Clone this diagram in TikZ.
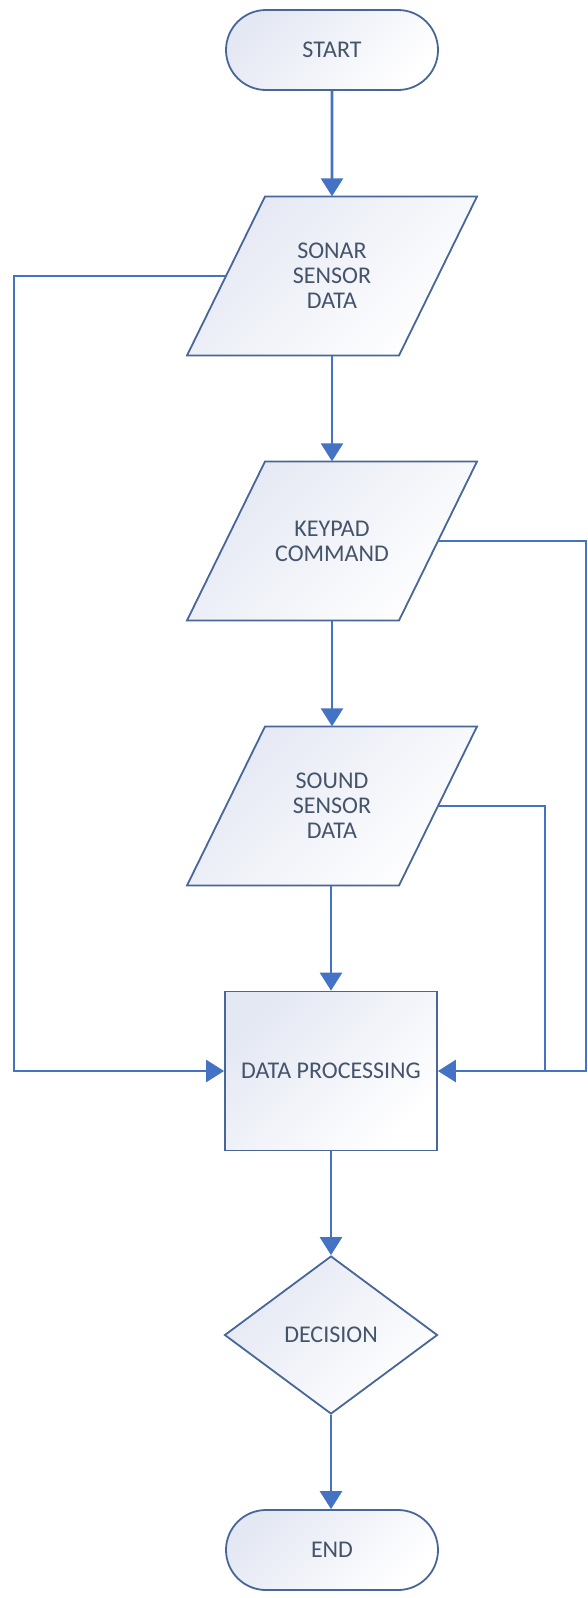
\documentclass[tikz,border=0pt]{standalone}
\usepackage{fontspec}
\setmainfont{Carlito}
\usetikzlibrary{shapes.geometric,shapes.misc,arrows.meta}
\definecolor{edgec}{RGB}{72,102,152}
\definecolor{linec}{RGB}{68,114,196}
\definecolor{txtc}{RGB}{68,84,106}
\definecolor{fillc}{RGB}{228,232,243}
\tikzset{
  lbl/.style={text=txtc, font=\fontsize{24}{25}\selectfont, align=center, inner sep=0pt},
  base/.style={lbl, draw=edgec, line width=1.8pt, top color=fillc, bottom color=white, shading angle=45},
  terminal/.style={base, rounded rectangle, minimum width=212pt, minimum height=80pt},
  procbox/.style={base, rectangle, minimum width=212pt, minimum height=159pt},
  decide/.style={base, diamond, minimum width=213pt, minimum height=158pt},
  iolabel/.style={lbl, minimum width=212pt, minimum height=159pt},
  ioshape/.style={draw=edgec, line width=1.8pt, top color=fillc, bottom color=white, shading angle=45},
  wire/.style={draw=linec, line width=2.6pt},
  conn/.style={wire, -{Triangle[length=18pt,width=22pt]}},
}
\newcommand{\ioshapeat}[2]{%
  \path[ioshape] (#1-67,#2-79.5) -- (#1+145,#2-79.5) -- (#1+67,#2+79.5) -- (#1-145,#2+79.5) -- cycle;}
\begin{document}
\begin{tikzpicture}[x=1pt,y=-1pt]
\useasboundingbox (0,0) rectangle (587,1598);
\fill[white] (0,0) rectangle (587,1598);

\node[terminal] (start) at (332,50) {START};

\ioshapeat{332}{276}
\node[iolabel] (sonar) at (332,276) {SONAR\\SENSOR\\DATA};

\ioshapeat{332}{541}
\node[iolabel] (keypad) at (332,541) {KEYPAD\\COMMAND};

\ioshapeat{332}{806}
\node[iolabel] (sound) at (332,806) {SOUND\\SENSOR\\DATA};

\node[procbox] (dp) at (331,1071) {DATA PROCESSING};
\node[decide] (decision) at (331,1335) {DECISION};
\node[terminal] (stop) at (332,1550) {END};

\coordinate (L) at (14,0);
\coordinate (R) at (586,0);
\coordinate (S) at (545,0);

\draw[conn] (start) -- (sonar);
\draw[conn] (sonar) -- (keypad);
\draw[conn] (keypad) -- (sound);
\draw[conn] (sound.south -| dp.north) -- (dp.north);
\draw[conn] (dp) -- (decision);
\draw[conn] (decision.south) -- (decision.south |- stop.north);

\draw[conn] (sonar.west) -| (L |- dp.west) -- (dp.west);
\draw[conn] (keypad.east) -| (R |- dp.east) -- (dp.east);
\draw[wire] (sound.east) -| (S |- dp.east);
\end{tikzpicture}
\end{document}
